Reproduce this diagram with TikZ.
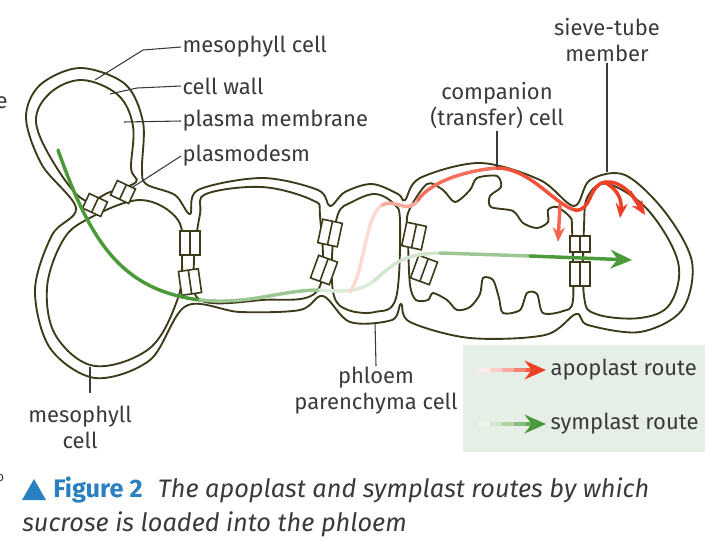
\documentclass[tikz,border=0pt]{standalone}
\usepackage{fontspec}
\setmainfont{Fira Sans}
\usetikzlibrary{arrows.meta}
\definecolor{wall}{HTML}{3D3A1A}
\definecolor{txt}{HTML}{3A3A3A}
\definecolor{gr}{HTML}{4A9A3A}
\definecolor{rd}{HTML}{EE4024}
\definecolor{capblue}{HTML}{2A7FC1}
\definecolor{legbg}{HTML}{E6EFE6}
\tikzset{
  cellline/.style={draw=wall, line width=1.4pt},
  lbl/.style={text=txt, font=\fontsize{16.5}{19.5}\selectfont, inner sep=1pt},
  lead/.style={draw=txt, line width=0.8pt},
  pd/.pic={\draw[wall,line width=1.2pt,fill=white] (-10,-12) rectangle (10,12); \draw[wall,line width=1.2pt] (0,-12)--(0,12);},
  pds/.pic={\draw[wall,line width=1.2pt,fill=white] (-10,-8) rectangle (10,8); \draw[wall,line width=1.2pt] (0,-8)--(0,8);},
  route/.style={line width=2.6pt, line cap=round},
  tip/.style={-{Stealth[length=16pt,width=14pt]}},
  rtip/.style={-{Stealth[length=11pt,width=9pt]}}
}
\begin{document}
\begin{tikzpicture}[x=0.75pt,y=-0.75pt]
\useasboundingbox (0,0) rectangle (723,540);
% outer outline
\draw[cellline] plot[smooth cycle, tension=0.55] coordinates {
 (76,208) (42,165) (26,118) (40,85) (80,68) (125,84) (143,122) (142,168) (146,184)
 (175,195) (190,214) (198,190) (262,178) (318,190) (330,206) (345,192) (372,184) (398,194) (405,200)
 (420,178) (480,163) (540,180) (574,206) (590,180) (625,175) (665,212) (692,262) (682,310) (640,332) (588,325) (576,314)
 (545,335) (470,338) (410,322) (401,304) (392,320) (350,322) (323,296)
 (300,310) (240,312) (186,306)
 (150,360) (95,378) (50,348) (35,290) (52,235) };
% inner membranes
\draw[cellline] plot[smooth cycle, tension=0.6] coordinates {(84,200) (55,165) (36,122) (50,93) (82,80) (118,95) (133,126) (131,168) (136,182) (110,192)};
\draw[cellline] plot[smooth cycle, tension=0.6] coordinates {(86,220) (140,200) (178,220) (182,260) (178,298) (150,348) (95,366) (56,336) (47,288) (62,242)};
\draw[cellline] plot[smooth cycle, tension=0.6] coordinates {(200,214) (206,194) (262,187) (312,200) (320,216) (318,290) (262,300) (200,300) (194,260)};
\draw[cellline] plot[smooth cycle, tension=0.6] coordinates {(338,214) (352,202) (375,194) (394,204) (400,222) (396,298) (375,312) (348,310) (334,296) (332,256)};
\draw[cellline] plot[smooth cycle, tension=0.5] coordinates {(408,213) (427,184) (443,190) (455,202) (470,190) (477,178) (497,176) (501,187) (490,196) (491,207) (513,211) (523,223) (537,228) (548,222) (548,210) (557,207) (570,217) (572,228)
 (573,300) (563,311) (543,313) (537,294) (527,293) (520,310) (503,313) (499,298) (493,280) (483,278) (480,294) (470,307) (457,310) (447,300) (433,293) (428,300) (416,300) (410,285) (408,240)};
\draw[cellline] plot[smooth cycle, tension=0.6] coordinates {(584,226) (588,196) (608,184) (648,210) (678,262) (670,304) (640,318) (596,314) (584,296)};
% plasmodesmata
\pic[rotate=-25] at (95,205) {pds};
\pic[rotate=-25] at (123,192) {pds};
\pic at (190,243) {pd};
\pic[rotate=8] at (190,282) {pd};
\pic[rotate=-12] at (330,233) {pd};
\pic[rotate=-20] at (324,270) {pd};
\pic[rotate=-12] at (414,236) {pd};
\pic[rotate=-20] at (424,270) {pd};
\pic at (580,244) {pds};
\pic at (580,274) {pd};
% green symplast route
\draw[route, gr] (58,150) .. controls (90,240) and (120,290) .. (200,300);
\draw[route, gr!55] (200,300) .. controls (250,305) and (280,290) .. (320,290);
\draw[route, gr!20] (320,290) .. controls (345,292) and (360,292) .. (375,280);
\draw[route, gr!25] (375,280) .. controls (395,262) and (405,254) .. (440,253);
\draw[route, gr!55] (440,253) -- (530,256);
\draw[route, gr, tip] (530,256) -- (632,260);
% red apoplast route
\draw[route, rd!20] (350,292) .. controls (365,270) and (365,215) .. (382,205);
\draw[route, rd!45] (382,205) .. controls (395,198) and (408,215) .. (418,200);
\draw[route, rd!75] (418,200) .. controls (432,180) and (470,170) .. (497,168);
\draw[route, rd!90] (497,168) .. controls (530,168) and (555,205) .. (575,210);
\draw[route, rd] (575,210) .. controls (592,212) and (588,185) .. (605,182) .. controls (620,180) and (635,195) .. (643,212);
\draw[route, rd, rtip] (630,192) -- (645,215);
\draw[route, rd!80, rtip] (560,205) -- (558,242);
\draw[route, rd, rtip] (606,183) .. controls (618,190) and (622,200) .. (620,218);
% labels
\node[lbl, anchor=west] (lmc) at (181,47) {mesophyll cell};
\node[lbl, anchor=west] (lcw) at (181,86) {cell wall};
\node[lbl, anchor=west] (lpm) at (181,121) {plasma membrane};
\node[lbl, anchor=west] (lpd) at (181,156) {plasmodesm};
\node[lbl, align=center] (lcc) at (497,106) {companion\\(transfer) cell};
\node[lbl, align=center] (lst) at (607,40) {sieve-tube\\member};
\node[lbl, align=center] (lpp) at (376,391) {phloem\\parenchyma cell};
\node[lbl, align=center] (lm2) at (80,427) {mesophyll\\cell};
\node[lbl, anchor=west] at (-6,103) {e};
\coordinate (c1) at (95,80);  \coordinate (c2) at (110,94);
\coordinate (c3) at (124,122); \coordinate (c4) at (133,187);
\draw[lead] (c1) -- (143,50) -- (lmc.west);
\draw[lead] (c2) -- (137,88) -- (lcw.west);
\draw[lead] (c3) -- (lpm.west);
\draw[lead] (c4) -- (lpd.west);
\coordinate (c5) at (497,167); \draw[lead] (lcc.south) -- (c5);
\coordinate (c6) at (607,172); \draw[lead] (lst.south) -- (c6);
\coordinate (c7) at (375,322); \draw[lead] (c7) -- (lpp.north);
\coordinate (c8) at (90,367); \draw[lead] (c8) -- (90,393);
% legend
\fill[legbg] (463,345) rectangle (705,452);
\foreach \i/\c in {0/10,1/25,2/45,3/65,4/85}{\draw[route, line cap=butt, rd!\c] (478+\i*12,370) -- (491+\i*12,370);}
\draw[rd, tip, line width=2.6pt] (538,370) -- (546,370);
\foreach \i/\c in {0/10,1/25,2/45,3/65,4/85}{\draw[route, line cap=butt, gr!\c] (478+\i*12,424) -- (491+\i*12,424);}
\draw[gr, tip, line width=2.6pt] (538,424) -- (546,424);
\node[lbl, anchor=west] (la) at (549,370) {apoplast route};
\node[lbl, anchor=west] (ls) at (549,424) {symplast route};
% caption
\fill[capblue] (22,500) -- (34,479) -- (46,500) -- cycle;
\node[anchor=west, inner sep=0pt, font=\fontsize{19}{22}\selectfont] (cap) at (53,490) {\textcolor{capblue}{\textbf{Figure 2}}\hspace{0.6em}\textcolor{txt}{\itshape The apoplast and symplast routes by which}};
\node[anchor=west, inner sep=0pt, font=\fontsize{19}{22}\selectfont, text=txt] (cap2) at (22,524) {\itshape sucrose is loaded into the phloem};
\node[anchor=west, inner sep=0pt, text=txt] at (-4,478) {o};
\end{tikzpicture}
\end{document}
